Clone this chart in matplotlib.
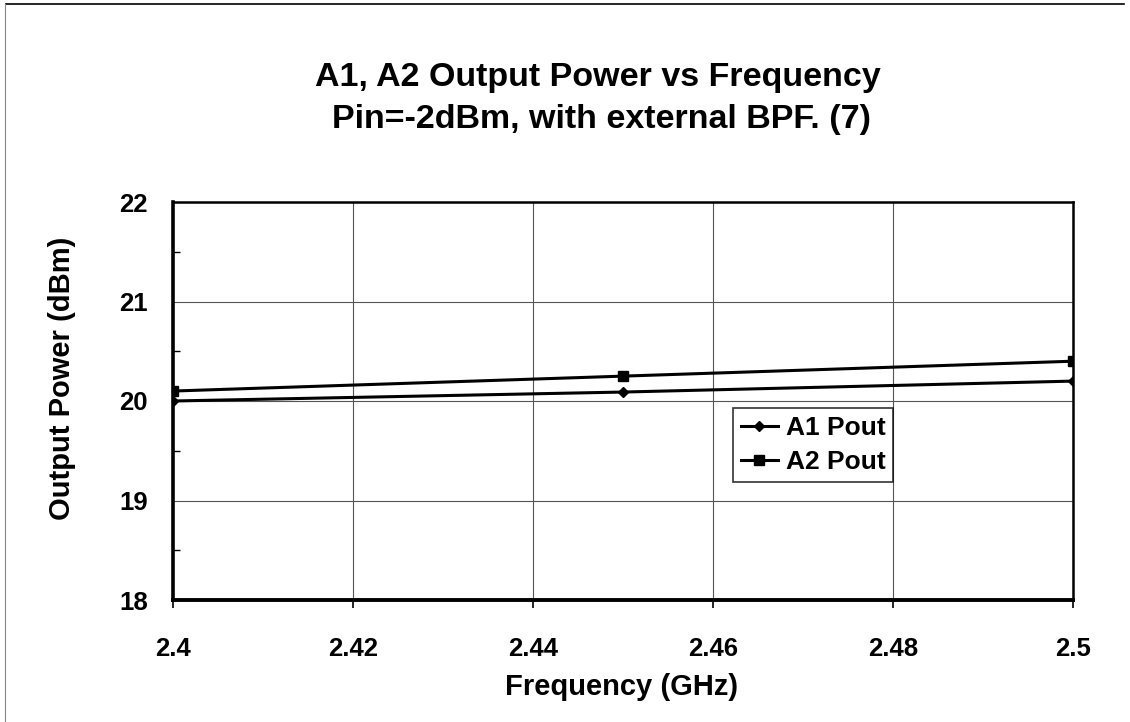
import matplotlib
matplotlib.use("Agg")
import matplotlib.pyplot as plt
from matplotlib.ticker import MultipleLocator

freq = [2.4, 2.45, 2.5]
a1_pout = [20.0, 20.09, 20.2]
a2_pout = [20.1, 20.25, 20.4]
xticks = [2.4, 2.42, 2.44, 2.46, 2.48, 2.5]
xticklabels = ["2.4", "2.42", "2.44", "2.46", "2.48", "2.5"]
yticks = [18, 19, 20, 21, 22]

plt.rcParams['font.family'] = ['Liberation Sans', 'DejaVu Sans']
W, H = 1130, 722
fig = plt.figure(figsize=(W/100, H/100), dpi=100)
ax = fig.add_axes([173/W, 1-600/H, 900/W, 398/H])

ax.plot(freq, a1_pout, color='black', lw=2.2, marker='D', ms=5, label='A1 Pout')
ax.plot(freq, a2_pout, color='black', lw=2.2, marker='s', ms=6.5, label='A2 Pout')

ax.set_xlim(2.4, 2.5)
ax.set_ylim(18, 22)
ax.set_xticks(xticks)
ax.set_xticklabels(xticklabels)
ax.set_yticks(yticks)
ax.yaxis.set_minor_locator(MultipleLocator(0.5))
ax.grid(True, which='major', color='#555555', lw=0.8)
ax.set_axisbelow(True)
ax.spines['left'].set_linewidth(2.6)
ax.spines['bottom'].set_linewidth(2.8)
ax.spines['top'].set_linewidth(1.8)
ax.spines['right'].set_linewidth(1.8)
ax.tick_params(axis='both', labelsize=18.5)
ax.tick_params(axis='x', which='major', pad=21, width=1.2, length=6, direction='out')
ax.tick_params(axis='y', which='major', pad=18, length=0)
ax.tick_params(axis='y', which='minor', direction='in', length=5, width=1.0)
for lab in ax.get_xticklabels() + ax.get_yticklabels():
    lab.set_fontweight('bold')

fig.text(622/W, 1-695/H, 'Frequency (GHz)', ha='center', va='baseline',
         fontsize=21, fontweight='bold')
fig.text(62/W, 1-378/H, 'Output Power (dBm)', ha='center', va='center', rotation=90,
         fontsize=21, fontweight='bold')

fig.text(598/W, 1-86/H, 'A1, A2 Output Power vs Frequency', ha='center', va='baseline',
         fontsize=24.5, fontweight='bold')
fig.text(601/W, 1-128/H, 'Pin=-2dBm, with external BPF. (7)', ha='center', va='baseline',
         fontsize=24.5, fontweight='bold')

leg = ax.legend(loc='upper left', bbox_to_anchor=(560/900, 1-(408-202)/398),
                prop={'weight': 'bold', 'size': 19}, frameon=True, fancybox=False,
                handlelength=1.4, handletextpad=0.3, borderpad=0.3, labelspacing=0.4,
                borderaxespad=0)
leg.get_frame().set_edgecolor('black')
leg.get_frame().set_linewidth(1.2)

# thin page border
fig.add_artist(plt.Line2D([0.005, 0.995], [0.994, 0.994], color='black', lw=1.2, transform=fig.transFigure))
fig.add_artist(plt.Line2D([0.004, 0.004], [0.994, 0.0], color='#888888', lw=0.8, transform=fig.transFigure))

fig.savefig('out.png', dpi=100)
